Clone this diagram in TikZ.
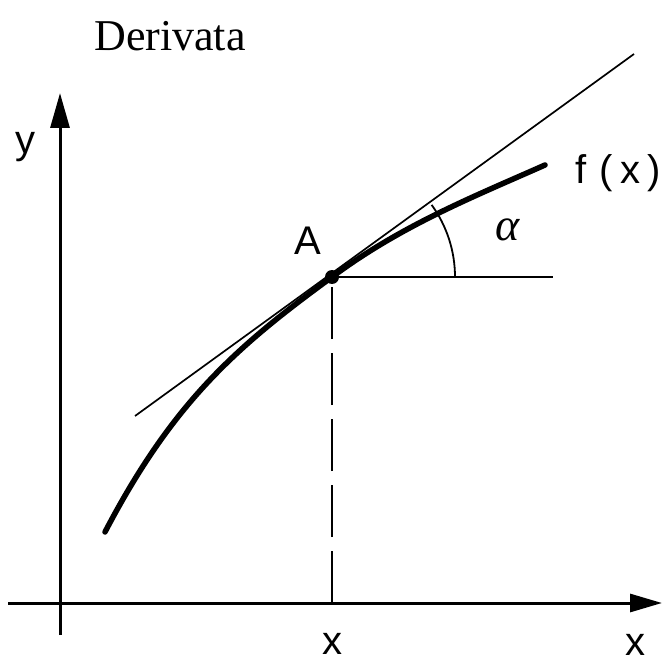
\documentclass[tikz,border=0pt]{standalone}
\usepackage{fontspec}
\setmainfont{Liberation Serif}
\newfontfamily\labfont{Liberation Sans}
\usetikzlibrary{arrows.meta}
\tikzset{
  axisline/.style={line width=3pt},
  thinline/.style={line width=1.7pt},
  curveline/.style={line width=5.5pt, line cap=round},
  dashline/.style={line width=2pt, dash pattern=on 52pt off 14pt},
  dotnode/.style={circle, fill=black, inner sep=0pt, minimum size=14pt},
  lab/.style={font=\labfont\fontsize{40}{40}\selectfont, inner sep=0pt},
  titlefont/.style={font=\fontsize{44}{44}\selectfont, inner sep=0pt},
  alphafont/.style={font=\itshape\fontsize{46}{46}\selectfont, inner sep=0pt},
}
\begin{document}
\begin{tikzpicture}[x=1pt,y=-1pt]
\useasboundingbox (0,0) rectangle (664,663);
\node[titlefont] (title) at (170,36) {Derivata};
% axes
\coordinate (ybot) at (60,635);
\coordinate (ytip) at (60,93);
\coordinate (xleft) at (8,603);
\coordinate (xtip) at (662,603);
\draw[axisline, -{Triangle[length=35pt,width=19pt]}] (ybot) -- (ytip);
\draw[axisline, -{Triangle[length=32pt,width=18pt]}] (xleft) -- (xtip);
% point A
\coordinate (Ac) at (332,277);
\coordinate (Afoot) at (332,603);
\coordinate (hend) at (553,277);
\coordinate (arcstart) at (455,277);
\coordinate (tanlow) at (135,416);
\coordinate (tanhigh) at (634,54);
\coordinate (cstart) at (105,532);
\coordinate (cend) at (545,165);
\draw[dashline] (Afoot) -- (Ac);
\draw[thinline] (tanlow) -- (tanhigh);
\draw[line width=2pt] (Ac) -- (hend);
\draw[line width=1.8pt] (arcstart) arc[start angle=0, end angle=35.9, radius=123pt];
\draw[curveline] (cstart) .. controls (173,402) and (236,347) .. (Ac)
   .. controls (402,225) and (473,197) .. (cend);
\node[dotnode] (A) at (Ac) {};
% labels
\node[lab] (ylab) at (26,147) {y};
\node[lab] (Alab) at (308,241) {A};
\node[alphafont] (alpha) at (508,230) {α};
\node[lab] (fx) at (618,173) {f\kern2pt\ (\kern8pt x\kern7pt)};
\node[lab] (xlab1) at (332,644) {x};
\node[lab] (xlab2) at (635,645) {x};
\end{tikzpicture}
\end{document}
